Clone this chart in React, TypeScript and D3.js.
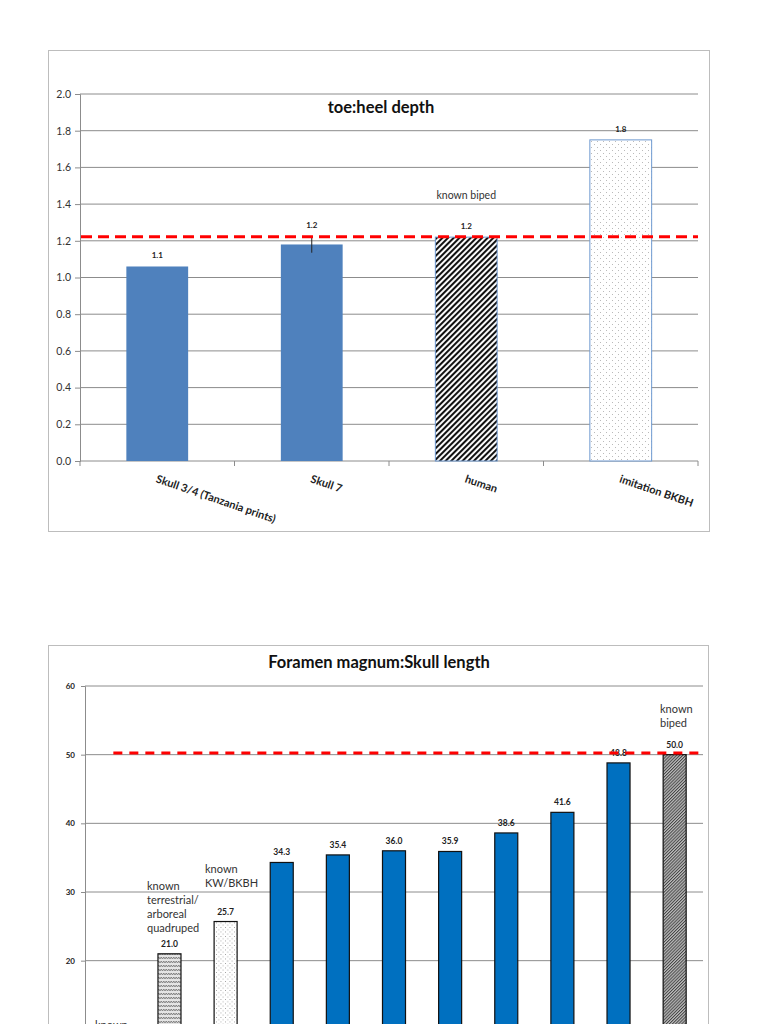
import { useRef, useEffect } from "react";
import * as d3 from "d3";

// chart 1: toe:heel depth
const toeCategories = ["Skull 3/4 (Tanzania prints)", "Skull 7", "human", "imitation BKBH"];
const toeValues = [1.06, 1.18, 1.22, 1.75];
const toeLabels = ["1.1", "1.2", "1.2", "1.8"];
const toeFills = ["solid", "solid", "hatch", "dots"];
const toeErrors = [0, 0.045, 0, 0];
const toeTicks = [0, 0.2, 0.4, 0.6, 0.8, 1.0, 1.2, 1.4, 1.6, 1.8, 2.0];
const toeBipedLine = 1.222;

// chart 2: Foramen magnum:Skull length
const fmCategories = [
  "known arboreal",
  "known terrestrial/arboreal quadruped",
  "known KW/BKBH",
  "Skull 1",
  "Skull 2",
  "Skull 3",
  "Skull 4",
  "Skull 5",
  "Skull 6",
  "Skull 7",
  "known biped",
];
const fmValues = [7.0, 21.0, 25.7, 34.3, 35.4, 36.0, 35.9, 38.6, 41.6, 48.8, 50.0];
const fmFills = ["solid", "zigzag", "dots2", "solid", "solid", "solid", "solid", "solid", "solid", "solid", "hatch2"];
const fmTicks = [0, 10, 20, 30, 40, 50, 60];
const fmBipedLine = 50.25;

const FONT = "Lato, 'Open Sans', sans-serif";

const App = () => {
  const svgRef = useRef<SVGSVGElement | null>(null);

  useEffect(() => {
    if (!svgRef.current) return;
    const svg = d3.select(svgRef.current);
    svg.selectAll("*").remove();

    // patterns
    const defs = svg.append("defs");
    const hatch = defs
      .append("pattern")
      .attr("id", "hatch")
      .attr("patternUnits", "userSpaceOnUse")
      .attr("width", 4)
      .attr("height", 4)
      .attr("patternTransform", "rotate(45)");
    hatch.append("rect").attr("width", 4).attr("height", 4).attr("fill", "#fff");
    hatch.append("line").attr("x1", 1).attr("x2", 1).attr("y1", 0).attr("y2", 4)
      .attr("stroke", "#111").attr("stroke-width", 2.1);

    const hatch2 = defs
      .append("pattern")
      .attr("id", "hatch2")
      .attr("patternUnits", "userSpaceOnUse")
      .attr("width", 2.2)
      .attr("height", 2.2)
      .attr("patternTransform", "rotate(45)");
    hatch2.append("rect").attr("width", 2.2).attr("height", 2.2).attr("fill", "#bbb");
    hatch2.append("line").attr("x1", 0.5).attr("x2", 0.5).attr("y1", 0).attr("y2", 2.2)
      .attr("stroke", "#3a3a3a").attr("stroke-width", 0.9);

    const makeDots = (id: string, size: number, color: string) => {
      const p = defs
        .append("pattern")
        .attr("id", id)
        .attr("patternUnits", "userSpaceOnUse")
        .attr("width", size)
        .attr("height", size);
      p.append("rect").attr("width", size).attr("height", size).attr("fill", "#fff");
      p.append("rect").attr("x", 0).attr("y", 0).attr("width", 0.9).attr("height", 0.9).attr("fill", color);
      p.append("rect").attr("x", size / 2).attr("y", size / 2).attr("width", 0.9).attr("height", 0.9).attr("fill", color);
    };
    makeDots("dots", 6, "#aaa");
    makeDots("dots2", 4.5, "#999");

    const zig = defs
      .append("pattern")
      .attr("id", "zigzag")
      .attr("patternUnits", "userSpaceOnUse")
      .attr("width", 5)
      .attr("height", 4);
    zig.append("rect").attr("width", 5).attr("height", 4).attr("fill", "#e4e4e4");
    zig.append("path").attr("d", "M0 3 L1.25 1 L2.5 3 L3.75 1 L5 3")
      .attr("fill", "none").attr("stroke", "#777").attr("stroke-width", 0.9);

    const fillFor = (kind: string, solid: string) =>
      kind === "solid" ? solid : `url(#${kind})`;

    // ---------- chart 1 ----------
    svg.append("rect")
      .attr("x", 48.5).attr("y", 50.5).attr("width", 661).attr("height", 481)
      .attr("fill", "#fff").attr("stroke", "#bdbdbd");

    const x1 = d3.scaleBand().domain(toeCategories).range([80, 698]).paddingInner(0.6).paddingOuter(0.3);
    const y1 = d3.scaleLinear().domain([0, 2]).range([461, 94]);
    const g1 = svg.append("g");

    g1.selectAll("line.grid")
      .data(toeTicks.slice(1))
      .enter()
      .append("line")
      .attr("x1", 80).attr("x2", 698)
      .attr("y1", (d) => y1(d)).attr("y2", (d) => y1(d))
      .attr("stroke", "#8c8c8c").attr("stroke-width", 1);

    const yAxis1 = d3.axisLeft(y1).tickValues(toeTicks).tickFormat(d3.format(".1f")).tickSize(5);
    const ya1 = g1.append("g").attr("transform", "translate(80,0)").call(yAxis1);
    ya1.selectAll("path,line").attr("stroke", "#8c8c8c");
    ya1.selectAll("text").attr("font-family", FONT).attr("font-size", 10.5).attr("fill", "#333").attr("x", -9);

    // x axis line with ticks at band boundaries
    g1.append("line").attr("x1", 80).attr("x2", 698).attr("y1", 461).attr("y2", 461).attr("stroke", "#8c8c8c");
    const step1 = x1.step();
    g1.selectAll("line.xt")
      .data(d3.range(toeCategories.length + 1))
      .enter()
      .append("line")
      .attr("x1", (i) => 80 + i * step1).attr("x2", (i) => 80 + i * step1)
      .attr("y1", 461).attr("y2", 466)
      .attr("stroke", "#8c8c8c");

    g1.selectAll("rect.bar")
      .data(toeCategories)
      .enter()
      .append("rect")
      .attr("x", (d) => x1(d)!)
      .attr("y", (d, i) => y1(toeValues[i]))
      .attr("width", x1.bandwidth())
      .attr("height", (d, i) => 461 - y1(toeValues[i]))
      .attr("fill", (d, i) => fillFor(toeFills[i], "#4f81bd"))
      .attr("stroke", (d, i) => (toeFills[i] === "solid" ? "none" : "#6e99d0"))
      .attr("stroke-width", 1);

    // error bar
    toeCategories.forEach((c, i) => {
      if (!toeErrors[i]) return;
      const cx = x1(c)! + x1.bandwidth() / 2;
      g1.append("line")
        .attr("x1", cx).attr("x2", cx)
        .attr("y1", y1(toeValues[i] - toeErrors[i])).attr("y2", y1(toeValues[i] + toeErrors[i]))
        .attr("stroke", "#222").attr("stroke-width", 1);
    });

    g1.selectAll("text.val")
      .data(toeCategories)
      .enter()
      .append("text")
      .attr("x", (d) => x1(d)! + x1.bandwidth() / 2)
      .attr("y", (d, i) => y1(toeValues[i] + toeErrors[i]) - 8)
      .attr("text-anchor", "middle")
      .attr("font-family", FONT).attr("font-weight", "bold").attr("font-size", 8).attr("fill", "#222")
      .text((d, i) => toeLabels[i]);

    g1.append("line")
      .attr("x1", 81).attr("x2", 698)
      .attr("y1", y1(toeBipedLine)).attr("y2", y1(toeBipedLine))
      .attr("stroke", "#ff0000").attr("stroke-width", 3.2).attr("stroke-dasharray", "11,6");

    g1.selectAll("text.xl")
      .data(toeCategories)
      .enter()
      .append("text")
      .attr("transform", (d) => `translate(${x1(d)! + x1.bandwidth() / 2 - 2},482) rotate(19)`)
      .attr("font-family", FONT).attr("font-weight", "bold").attr("font-size", 11).attr("fill", "#222")
      .text((d) => d);

    g1.append("text")
      .attr("x", 381).attr("y", 113)
      .attr("text-anchor", "middle")
      .attr("font-family", FONT).attr("font-weight", "bold").attr("font-size", 16.5).attr("fill", "#111")
      .text("toe:heel depth");

    g1.append("text")
      .attr("x", x1("human")! + x1.bandwidth() / 2).attr("y", 199)
      .attr("text-anchor", "middle")
      .attr("font-family", FONT).attr("font-size", 10.5).attr("fill", "#333")
      .text("known biped");

    // ---------- chart 2 ----------
    svg.append("rect")
      .attr("x", 48.5).attr("y", 645.5).attr("width", 660).attr("height", 520)
      .attr("fill", "#fff").attr("stroke", "#bdbdbd");

    const x2 = d3.scaleBand().domain(fmCategories).range([85, 703]).paddingInner(0.59).paddingOuter(0.3);
    const y2 = d3.scaleLinear().domain([0, 60]).range([1098, 686]);
    const g2 = svg.append("g");

    g2.selectAll("line.grid")
      .data(fmTicks.slice(1))
      .enter()
      .append("line")
      .attr("x1", 85).attr("x2", 703)
      .attr("y1", (d) => y2(d)).attr("y2", (d) => y2(d))
      .attr("stroke", "#8c8c8c").attr("stroke-width", 1);

    // only the ticks that fall inside the page are labelled
    const yAxis2 = d3.axisLeft(y2).tickValues(fmTicks.filter((t) => t >= 20)).tickSize(4);
    const ya2 = g2.append("g").attr("transform", "translate(85,0)").call(yAxis2);
    ya2.selectAll("path,line").attr("stroke", "#8c8c8c");
    ya2.selectAll("text").attr("font-family", FONT).attr("font-weight", "bold").attr("font-size", 8).attr("fill", "#222").attr("x", -10);

    g2.selectAll("rect.bar")
      .data(fmCategories)
      .enter()
      .append("rect")
      .attr("x", (d) => x2(d)!)
      .attr("y", (d, i) => y2(fmValues[i]))
      .attr("width", x2.bandwidth())
      .attr("height", (d, i) => 1098 - y2(fmValues[i]))
      .attr("fill", (d, i) => fillFor(fmFills[i], "#0070c0"))
      .attr("stroke", "#111")
      .attr("stroke-width", 1.2);

    g2.selectAll("text.val")
      .data(fmCategories.slice(1))
      .enter()
      .append("text")
      .attr("x", (d) => x2(d)! + x2.bandwidth() / 2)
      .attr("y", (d, i) => y2(fmValues[i + 1]) - 7)
      .attr("text-anchor", "middle")
      .attr("font-family", FONT).attr("font-weight", "bold").attr("font-size", 8.5).attr("fill", "#222")
      .text((d, i) => fmValues[i + 1].toFixed(1));

    const firstCenter = x2(fmCategories[0])! + x2.bandwidth() / 2;
    g2.append("line")
      .attr("x1", firstCenter).attr("x2", 703)
      .attr("y1", y2(fmBipedLine)).attr("y2", y2(fmBipedLine))
      .attr("stroke", "#ff0000").attr("stroke-width", 3).attr("stroke-dasharray", "9,7");

    g2.append("text")
      .attr("x", 379).attr("y", 668)
      .attr("text-anchor", "middle")
      .attr("font-family", FONT).attr("font-weight", "bold").attr("font-size", 16.5).attr("fill", "#111")
      .text("Foramen magnum:Skull length");

    const notes = [
      { x: 660, y: 713, lines: ["known", "biped"] },
      { x: 205, y: 873, lines: ["known", "KW/BKBH"] },
      { x: 147, y: 890, lines: ["known", "terrestrial/", "arboreal", "quadruped"] },
      { x: 95, y: 1029, lines: ["known"] },
    ];
    notes.forEach((n) => {
      const t = g2.append("text")
        .attr("font-family", FONT).attr("font-size", 11).attr("fill", "#333");
      n.lines.forEach((l, i) => {
        t.append("tspan").attr("x", n.x).attr("y", n.y + i * 14).text(l);
      });
    });
  }, []);

  return (
    <div style={{ position: "absolute", left: 0, top: 0, width: 768, height: 1024, overflow: "hidden", background: "#fff" }}>
      <svg ref={svgRef} width={768} height={1024} style={{ display: "block" }}></svg>
    </div>
  );
};

export default App;
